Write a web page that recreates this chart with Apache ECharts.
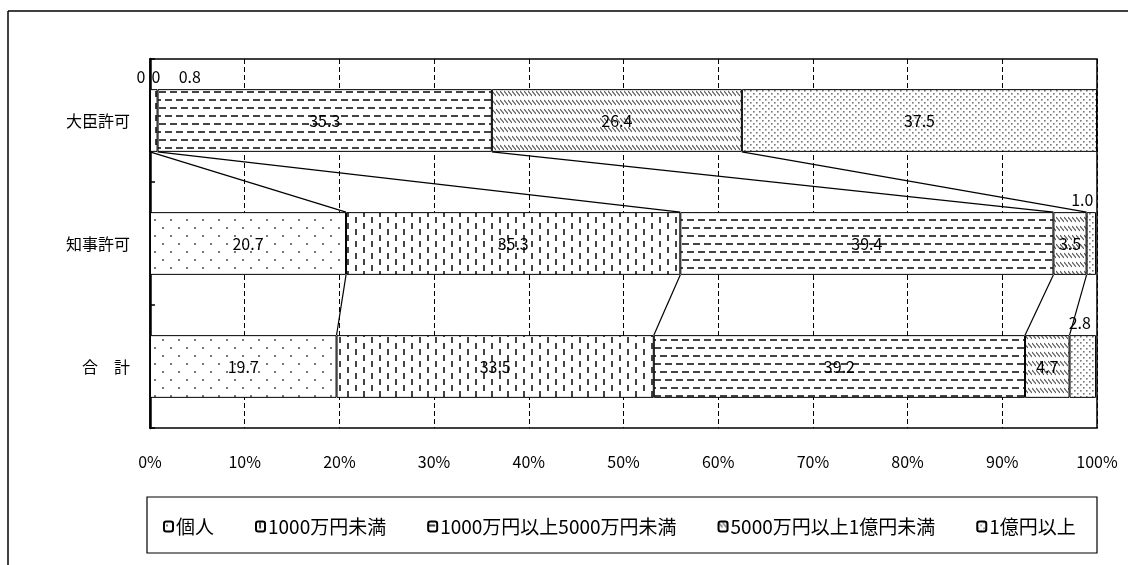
<!DOCTYPE html>
<html>
<head>
<meta charset="utf-8">
<script src="https://cdn.jsdelivr.net/npm/echarts@6/dist/echarts.min.js"></script>
<style>
  html, body { margin: 0; padding: 0; background: #fff; }
  #chart { width: 1128px; height: 565px; }
</style>
</head>
<body>
<div id="chart"></div>
<script>
// Capital-size breakdown of permit holders (%), by permit type
const categories = ['大臣許可', '知事許可', '合　計'];
const seriesNames = ['個人', '1000万円未満', '1000万円以上5000万円未満', '5000万円以上1億円未満', '1億円以上'];
const kojin = [0, 20.7, 19.7];
const zeroRow = [0, null, null];
const under1000 = [0.8, 35.3, 33.5];
const from1000to5000 = [35.3, 39.4, 39.2];
const from5000to1oku = [26.4, 3.5, 4.7];
const over1oku = [37.5, 1.0, 2.8];
const xTickValues = [0, 10, 20, 30, 40, 50, 60, 70, 80, 90, 100];

const FONT = '"Noto Sans CJK JP", "Noto Sans", sans-serif';
const BAR_RATIO = 0.51;

// --- fill patterns -------------------------------------------------------
function tile(w, h, draw) {
  const c = document.createElement('canvas');
  c.width = w; c.height = h;
  const g = c.getContext('2d');
  g.fillStyle = '#fff';
  g.fillRect(0, 0, w, h);
  draw(g, w, h);
  return { image: c, repeat: 'repeat' };
}
function wrapRect(g, w, h, x, y, rw, rh) {
  for (const dx of [-w, 0, w]) for (const dy of [-h, 0, h]) g.fillRect(x + dx, y + dy, rw, rh);
}
const patSparseDots = tile(16, 16, (g, w, h) => {
  g.fillStyle = '#777';
  wrapRect(g, w, h, 2, 3, 2, 2);
  wrapRect(g, w, h, 10, 11, 2, 2);
});
const patVDash = tile(16, 12, (g, w, h) => {
  g.fillStyle = '#444';
  wrapRect(g, w, h, 3, 1, 2, 6);
  wrapRect(g, w, h, 11, 7, 2, 6);
});
const patHDash = tile(22, 16, (g, w, h) => {
  g.fillStyle = '#444';
  wrapRect(g, w, h, 0, 3, 7, 2);
  wrapRect(g, w, h, 11, 3, 7, 2);
  wrapRect(g, w, h, 5, 11, 7, 2);
  wrapRect(g, w, h, 16, 11, 7, 2);
});
const patHatch = tile(4, 9, (g) => {
  g.strokeStyle = '#555';
  g.lineWidth = 1.2;
  g.beginPath();
  g.moveTo(0, 1); g.lineTo(4, 6);
  g.stroke();
});
const patDenseDots = tile(6, 6, (g, w, h) => {
  g.fillStyle = '#777';
  wrapRect(g, w, h, 0, 0, 1.6, 1.6);
  wrapRect(g, w, h, 3, 3, 1.6, 1.6);
});

// --- label helpers ------------------------------------------------------
const labelBase = { show: true, color: '#000', fontFamily: FONT, fontSize: 16 };
function fmt(v) { return Number(v).toFixed(v === 0 ? 0 : 1); }
function barData(values, aboveIdx, offsets) {
  return values.map((v, i) => {
    if (v === null) return null;
    const item = { value: v };
    if (aboveIdx.includes(i)) {
      item.label = { position: 'top', distance: 4, offset: offsets[i] || [0, 0] };
    }
    return item;
  });
}
function barSeries(name, values, pattern, aboveIdx, offsets) {
  return {
    name: name,
    type: 'bar',
    stack: 'total',
    barWidth: (BAR_RATIO * 100) + '%',
    itemStyle: { color: pattern, borderColor: '#000', borderWidth: 1 },
    label: Object.assign({}, labelBase, {
      position: 'inside',
      formatter: (p) => fmt(p.value)
    }),
    emphasis: { disabled: true },
    data: barData(values, aboveIdx, offsets)
  };
}

// --- connector lines between neighbouring bars --------------------------
const stackOrder = [kojin, under1000, from1000to5000, from5000to1oku, over1oku];
function cumulative(ci) {
  const out = []; let s = 0;
  for (let k = 0; k < stackOrder.length - 1; k++) { s += stackOrder[k][ci] || 0; out.push(s); }
  return out;
}
const connectorData = [];
for (let ci = 0; ci < categories.length - 1; ci++) {
  const a = cumulative(ci), b = cumulative(ci + 1);
  for (let k = 0; k < a.length; k++) connectorData.push([a[k], b[k], ci]);
}

const chart = echarts.init(document.getElementById('chart'), null, { renderer: 'canvas' });
chart.setOption({
  animation: false,
  backgroundColor: '#fff',
  textStyle: { fontFamily: FONT },
  grid: {
    left: 150, right: 31, top: 59, bottom: 137,
    show: true, borderColor: '#000', borderWidth: 1.5, backgroundColor: 'transparent'
  },
  xAxis: {
    type: 'value', min: 0, max: 100, interval: 10,
    axisLine: { show: false },
    axisTick: { show: false },
    axisLabel: {
      color: '#000', fontSize: 16, fontFamily: FONT, margin: 26,
      formatter: (v) => xTickValues.includes(v) ? v + '%' : ''
    },
    splitLine: { show: true, lineStyle: { color: '#000', type: [5, 3], width: 1 } }
  },
  yAxis: {
    type: 'category', data: categories, inverse: true,
    axisLine: { show: true, lineStyle: { color: '#000', width: 2.5 } },
    axisTick: { show: true, inside: true, length: 5, lineStyle: { color: '#000', width: 1.5 } },
    axisLabel: { color: '#000', fontSize: 16, fontFamily: FONT, margin: 20 }
  },
  legend: {
    data: seriesNames,
    left: 158, top: 512,
    itemWidth: 9, itemHeight: 10, itemGap: 41,
    textStyle: { color: '#000', fontSize: 19, fontFamily: FONT, padding: [0, 0, 0, -2] },
    selectedMode: false
  },
  graphic: [
    { type: 'rect', shape: { x: 147, y: 497, width: 950, height: 56 },
      style: { fill: 'none', stroke: '#000', lineWidth: 1.2 }, z: 100 },
    { type: 'line', shape: { x1: 8, y1: 11, x2: 1128, y2: 11 },
      style: { stroke: '#000', lineWidth: 1.5 } },
    { type: 'line', shape: { x1: 8, y1: 11, x2: 8, y2: 565 },
      style: { stroke: '#000', lineWidth: 1.5 } }
  ],
  series: [
    barSeries('個人', kojin, patSparseDots, [0], { 0: [-9, 0] }),
    barSeries('', zeroRow, patSparseDots, [0], { 0: [6, 0] }),
    barSeries('1000万円未満', under1000, patVDash, [0], { 0: [36, 0] }),
    barSeries('1000万円以上5000万円未満', from1000to5000, patHDash, [], {}),
    barSeries('5000万円以上1億円未満', from5000to1oku, patHatch, [], {}),
    barSeries('1億円以上', over1oku, patDenseDots, [1, 2], { 1: [-9, 0], 2: [-3, 0] }),
    {
      type: 'custom',
      silent: true,
      z: 5,
      encode: { x: [0, 1], y: 2 },
      data: connectorData,
      renderItem: function (params, api) {
        const ci = api.value(2);
        const p1 = api.coord([api.value(0), ci]);
        const p2 = api.coord([api.value(1), ci + 1]);
        const half = api.size([0, 1])[1] * BAR_RATIO / 2;
        return {
          type: 'line',
          shape: { x1: p1[0], y1: p1[1] + half, x2: p2[0], y2: p2[1] - half },
          style: { stroke: '#000', lineWidth: 1.2 }
        };
      }
    }
  ]
});
</script>
</body>
</html>
